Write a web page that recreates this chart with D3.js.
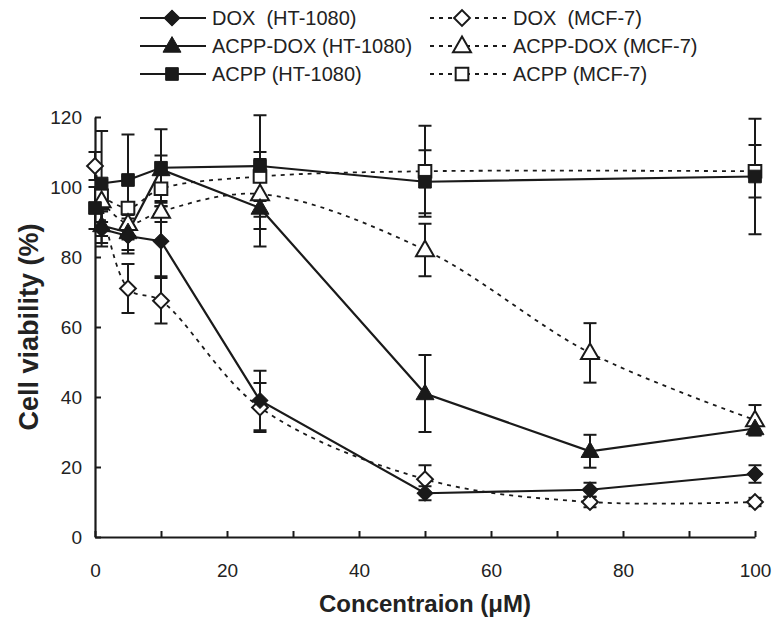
<!DOCTYPE html>
<html><head><meta charset="utf-8">
<script src="https://cdn.jsdelivr.net/npm/d3@7"></script>
<style>body{margin:0;background:#fff} svg{display:block}</style>
</head><body><svg id="c" width="778" height="627"></svg>
<script>
// ---- data ----
const seriesNames = ["DOX  (HT-1080)", "ACPP-DOX (HT-1080)", "ACPP (HT-1080)", "DOX  (MCF-7)", "ACPP-DOX (MCF-7)", "ACPP (MCF-7)"];
const doxHT_x   = [1, 5, 10, 25, 50, 75, 100];
const doxHT_y   = [88, 86, 84.5, 39, 12.5, 13.5, 18];
const doxHT_e   = [5, 5, 10, 8.5, 2, 2, 2.5];
const acdHT_x   = [1, 5, 10, 25, 50, 75, 100];
const acdHT_y   = [89, 87, 105, 94, 41, 24.5, 31];
const acdHT_e   = [5, 5, 4, 11, 11, 4.7, 2];
const acpHT_x   = [0, 1, 5, 10, 25, 50, 100];
const acpHT_y   = [94, 101, 102, 105.5, 106, 101.5, 103];
const acpHT_e   = [6, 15, 13, 11, 14.5, 9, 16.5];
const doxMCF_x  = [0, 5, 10, 25, 50, 75, 100];
const doxMCF_y  = [106, 71, 67.5, 37, 16.5, 10, 10];
const doxMCF_e  = [4, 7, 6.5, 7, 4, 1.5, 1.2];
const acdMCF_x  = [1, 5, 10, 25, 50, 75, 100];
const acdMCF_y  = [96, 89.5, 93, 98, 82, 52.6, 33.4];
const acdMCF_e  = [6, 4, 3, 10, 7.5, 8.5, 4.3];
const acpMCF_x  = [1, 5, 10, 25, 50, 100];
const acpMCF_y  = [97.5, 94, 99.5, 103, 104.5, 104.5];
const acpMCF_e  = [4, 9, 4, 7, 13, 7.5];
const xTicks = [0, 20, 40, 60, 80, 100];
const yTicks = [0, 20, 40, 60, 80, 100, 120];
const xTitle = "Concentraion (μM)";
const yTitle = "Cell viability (%)";

// ---- build ----
function mk(xs, ys, es){ return xs.map((x,i)=>({x, y: ys[i], e: es[i]})); }
const series = [
  {name: seriesNames[0], pts: mk(doxHT_x, doxHT_y, doxHT_e), shape: "diamond", fill: true, dash: false},
  {name: seriesNames[1], pts: mk(acdHT_x, acdHT_y, acdHT_e), shape: "triangle", fill: true, dash: false},
  {name: seriesNames[2], pts: mk(acpHT_x, acpHT_y, acpHT_e), shape: "square", fill: true, dash: false},
  {name: seriesNames[3], pts: mk(doxMCF_x, doxMCF_y, doxMCF_e), shape: "diamond", fill: false, dash: true},
  {name: seriesNames[4], pts: mk(acdMCF_x, acdMCF_y, acdMCF_e), shape: "triangle", fill: false, dash: true},
  {name: seriesNames[5], pts: mk(acpMCF_x, acpMCF_y, acpMCF_e), shape: "square", fill: false, dash: true}
];

const svg = d3.select("#c");
const x = d3.scaleLinear().domain([0, 100]).range([95, 755]);
const y = d3.scaleLinear().domain([0, 120]).range([537, 117]);
const FONT = "Liberation Sans, Arial, sans-serif";

const symGen = {
  diamond: d3.symbol().type(d3.symbolSquare).size(125),
  triangle: d3.symbol().type(d3.symbolTriangle).size(140),
  square: d3.symbol().type(d3.symbolSquare).size(160)
};
function drawMarker(g, shape, fill, cx, cy){
  const p = g.append("path").attr("d", symGen[shape]())
    .attr("fill", fill ? "#1a1a1a" : "#fff")
    .attr("stroke", "#1a1a1a").attr("stroke-width", fill ? 1 : 2);
  let t = `translate(${cx},${cy})`;
  if (shape === "diamond") t += " rotate(45)";
  if (shape === "triangle") t += " translate(0,1)";
  p.attr("transform", t);
}

// axes
const gx = svg.append("g").attr("transform", `translate(0,${y(0)})`)
  .call(d3.axisBottom(x).tickValues(d3.range(0, 101, 10)).tickSizeInner(-6).tickSizeOuter(0).tickPadding(27)
    .tickFormat(d => xTicks.includes(d) ? d : ""));
const gy = svg.append("g").attr("transform", `translate(${x(0)},0)`)
  .call(d3.axisLeft(y).tickValues(yTicks).tickSizeInner(-6).tickSizeOuter(0).tickPadding(13));
[gx, gy].forEach(g => {
  g.select(".domain").attr("stroke", "#1a1a1a").attr("stroke-width", 2.2);
  g.selectAll(".tick line").attr("stroke", "#1a1a1a").attr("stroke-width", 2);
  g.selectAll(".tick text").attr("font-family", FONT).attr("font-size", 19).attr("fill", "#222");
});
gy.selectAll(".tick text").attr("dy", "0.35em");

// error bars
const eb = svg.append("g");
series.forEach(s => {
  s.pts.forEach(p => {
    const cx = x(p.x);
    eb.append("line").attr("x1", cx).attr("x2", cx).attr("y1", y(p.y - p.e)).attr("y2", y(p.y + p.e))
      .attr("stroke", "#1a1a1a").attr("stroke-width", 2);
    [p.y - p.e, p.y + p.e].forEach(v => {
      eb.append("line").attr("x1", cx - 6.5).attr("x2", cx + 6.5).attr("y1", y(v)).attr("y2", y(v))
        .attr("stroke", "#1a1a1a").attr("stroke-width", 2);
    });
  });
});

// lines
const lineStraight = d3.line().x(d => x(d.x)).y(d => y(d.y));
const lineSmooth = d3.line().x(d => x(d.x)).y(d => y(d.y)).curve(d3.curveCatmullRom.alpha(0.5));
const lg = svg.append("g");
series.forEach(s => {
  lg.append("path").datum(s.pts)
    .attr("d", s.dash ? lineSmooth : lineStraight)
    .attr("fill", "none").attr("stroke", "#1a1a1a")
    .attr("stroke-width", s.dash ? 1.8 : 2.2)
    .attr("stroke-dasharray", s.dash ? "4,5" : null);
});

// markers
const mg = svg.append("g");
series.slice().reverse().forEach(s => {
  s.pts.forEach(p => drawMarker(mg, s.shape, s.fill, x(p.x), y(p.y)));
});

// titles
svg.append("text").attr("x", 425).attr("y", 612).attr("text-anchor", "middle")
  .attr("font-family", FONT).attr("font-weight", "bold").attr("font-size", 24).attr("fill", "#222").text(xTitle);
svg.append("text").attr("transform", `translate(38,${y(60)}) rotate(-90)`).attr("text-anchor", "middle")
  .attr("font-family", FONT).attr("font-weight", "bold").attr("font-size", 27).attr("fill", "#222").text(yTitle);

// legend
const legend = svg.append("g");
const rowY = [18, 46, 74];
const cols = [{x0: 140, x1: 206, mx: 172, tx: 212}, {x0: 430, x1: 506, mx: 462, tx: 513}];
series.forEach((s, i) => {
  const c = cols[s.dash ? 1 : 0];
  const r = rowY[i % 3];
  legend.append("line").attr("x1", c.x0).attr("x2", c.x1).attr("y1", r).attr("y2", r)
    .attr("stroke", "#1a1a1a").attr("stroke-width", s.dash ? 1.8 : 2.2)
    .attr("stroke-dasharray", s.dash ? "4,5" : null);
  drawMarker(legend, s.shape, s.fill, c.mx, r);
  legend.append("text").attr("x", c.tx).attr("y", r).attr("dy", "0.35em")
    .attr("font-family", FONT).attr("font-size", 20).attr("fill", "#222")
    .style("white-space", "pre").text(s.name);
});
</script></body></html>
